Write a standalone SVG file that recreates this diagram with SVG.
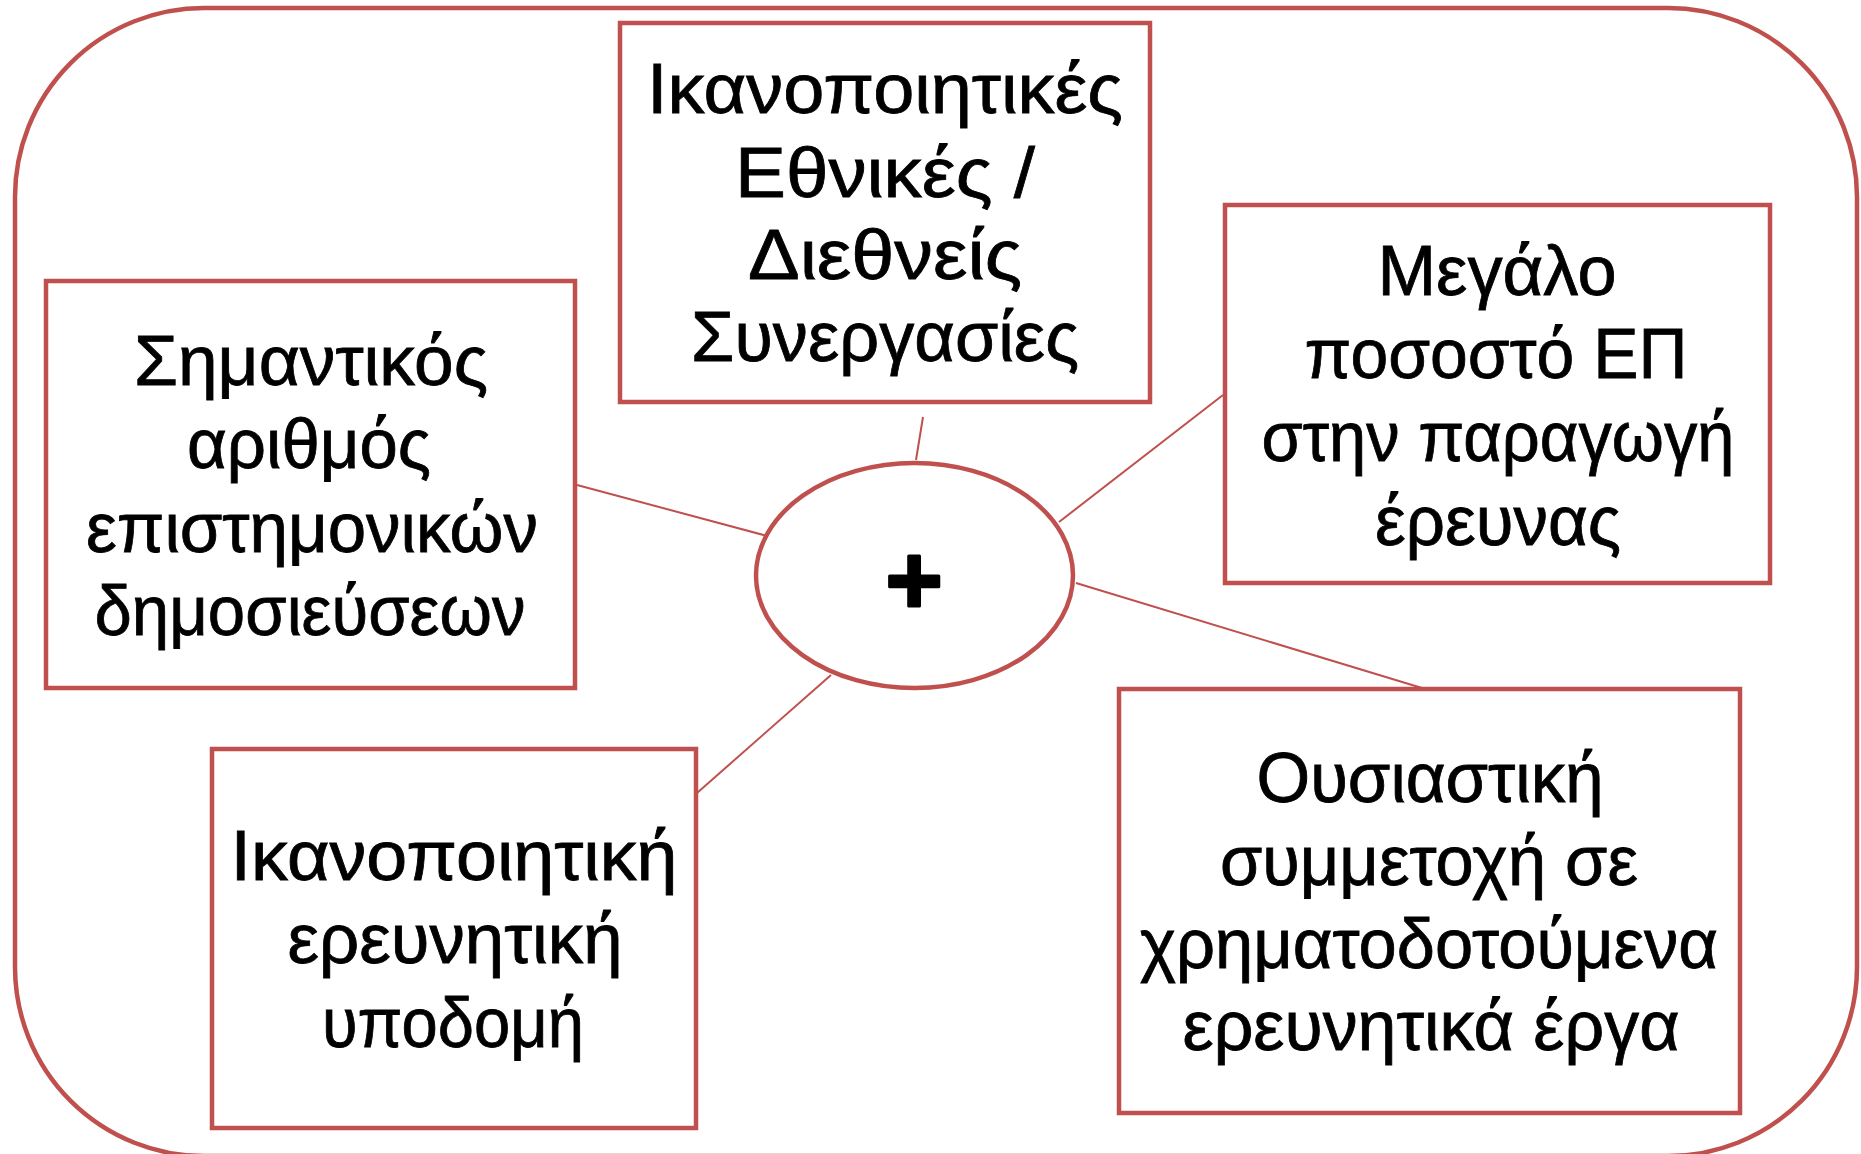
<svg xmlns="http://www.w3.org/2000/svg" width="1861" height="1154" viewBox="0 0 1861 1154">
<style>
.frame{fill:#fff;stroke:#C0504D;stroke-width:4.5}
.box{fill:#fff;stroke:#C0504D;stroke-width:4.5}
.conn line{stroke:#C0504D;stroke-width:2}
.t{font-family:"Liberation Sans",Arial,sans-serif;font-size:70px;fill:#000;stroke:#000;stroke-width:0.8;text-anchor:middle}
.plus{font-family:"Liberation Sans",Arial,sans-serif;font-size:98px;font-weight:bold;fill:#000;stroke:#000;stroke-width:3;stroke-linejoin:round;text-anchor:middle}
</style>
<rect id="frame" class="frame" x="15" y="8" width="1842" height="1148" rx="189" ry="189"/>
<g id="connectors" class="conn">
<line x1="923" y1="417" x2="916" y2="460"/>
<line x1="577" y1="485" x2="771" y2="537"/>
<line x1="1223" y1="395" x2="1059" y2="522"/>
<line x1="1076" y1="583" x2="1422" y2="688"/>
<line x1="831" y1="675" x2="697" y2="793"/>
</g>
<g id="center">
<ellipse class="box" cx="914.5" cy="575.5" rx="158.5" ry="112.5"/>
<text class="plus" x="914" y="614">+</text>
</g>
<g id="n-top">
<rect class="box" x="620" y="23" width="530" height="379"/>
<text class="t" x="885" y="113" textLength="476" lengthAdjust="spacingAndGlyphs">Ικανοποιητικές</text>
<text class="t" x="885" y="197" textLength="300" lengthAdjust="spacingAndGlyphs">Εθνικές /</text>
<text class="t" x="885" y="279" textLength="274" lengthAdjust="spacingAndGlyphs">Διεθνείς</text>
<text class="t" x="885" y="361" textLength="388" lengthAdjust="spacingAndGlyphs">Συνεργασίες</text>
</g>
<g id="n-left">
<rect class="box" x="46" y="281" width="529" height="407"/>
<text class="t" x="311" y="385" textLength="354" lengthAdjust="spacingAndGlyphs">Σημαντικός</text>
<text class="t" x="309" y="468" textLength="244" lengthAdjust="spacingAndGlyphs">αριθμός</text>
<text class="t" x="312" y="552" textLength="452" lengthAdjust="spacingAndGlyphs">επιστημονικών</text>
<text class="t" x="310" y="635" textLength="431" lengthAdjust="spacingAndGlyphs">δημοσιεύσεων</text>
</g>
<g id="n-right">
<rect class="box" x="1225" y="205" width="545" height="378"/>
<text class="t" x="1497" y="295" textLength="239" lengthAdjust="spacingAndGlyphs">Μεγάλο</text>
<text class="t" x="1496" y="378" textLength="383" lengthAdjust="spacingAndGlyphs">ποσοστό ΕΠ</text>
<text class="t" x="1498" y="461" textLength="473" lengthAdjust="spacingAndGlyphs">στην παραγωγή</text>
<text class="t" x="1498" y="545" textLength="246" lengthAdjust="spacingAndGlyphs">έρευνας</text>
</g>
<g id="n-bottom-left">
<rect class="box" x="212" y="749" width="484" height="379"/>
<text class="t" x="454" y="880" textLength="447" lengthAdjust="spacingAndGlyphs">Ικανοποιητική</text>
<text class="t" x="455" y="963" textLength="335" lengthAdjust="spacingAndGlyphs">ερευνητική</text>
<text class="t" x="453" y="1047" textLength="262" lengthAdjust="spacingAndGlyphs">υποδομή</text>
</g>
<g id="n-bottom-right">
<rect class="box" x="1119" y="689" width="621" height="424"/>
<text class="t" x="1430" y="802" textLength="347" lengthAdjust="spacingAndGlyphs">Ουσιαστική</text>
<text class="t" x="1429" y="885" textLength="418" lengthAdjust="spacingAndGlyphs">συμμετοχή σε</text>
<text class="t" x="1429" y="968" textLength="578" lengthAdjust="spacingAndGlyphs">χρηματοδοτούμενα</text>
<text class="t" x="1431" y="1050" textLength="497" lengthAdjust="spacingAndGlyphs">ερευνητικά έργα</text>
</g>
</svg>
